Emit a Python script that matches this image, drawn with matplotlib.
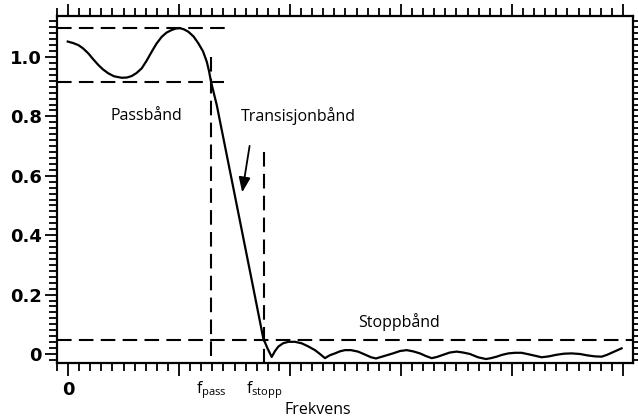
import matplotlib
matplotlib.use("Agg")
import matplotlib.pyplot as plt
from matplotlib.ticker import MultipleLocator

# amplitude response (frequency in tick units, 0..5)
freq = [-0.003, 0.045, 0.093, 0.135, 0.183, 0.225, 0.273, 0.315, 0.363, 0.414,
        0.484, 0.532, 0.574, 0.617, 0.664, 0.707, 0.754, 0.797, 0.844, 0.887,
        0.934, 0.973, 1.009, 1.045, 1.084, 1.131, 1.174, 1.216, 1.250, 1.270,
        1.288, 1.340, 1.475, 1.655, 1.759, 1.797, 1.835, 1.865, 1.895, 1.937,
        1.985, 2.045, 2.105, 2.162, 2.225, 2.270, 2.315, 2.360, 2.405, 2.450,
        2.495, 2.550, 2.613, 2.676, 2.730, 2.775, 2.838, 2.928, 2.991, 3.051,
        3.108, 3.171, 3.225, 3.277, 3.324, 3.378, 3.441, 3.502, 3.559, 3.622,
        3.694, 3.766, 3.811, 3.862, 3.910, 3.967, 4.027, 4.087, 4.162, 4.268,
        4.333, 4.396, 4.468, 4.538, 4.613, 4.685, 4.748, 4.808, 4.856, 4.898,
        4.946, 4.988]
gain = [1.052, 1.047, 1.040, 1.029, 1.012, 0.993, 0.973, 0.958, 0.945, 0.935,
        0.930, 0.931, 0.936, 0.946, 0.962, 0.987, 1.018, 1.045, 1.068, 1.082,
        1.091, 1.096, 1.097, 1.093, 1.085, 1.069, 1.046, 1.019, 0.984, 0.953,
        0.917, 0.838, 0.586, 0.249, 0.053, 0.019, -0.010, 0.010, 0.025, 0.036,
        0.041, 0.041, 0.036, 0.026, 0.013, 0.000, -0.014, -0.004, 0.002, 0.009,
        0.013, 0.013, 0.008, -0.002, -0.011, -0.015, -0.008, 0.002, 0.010, 0.013,
        0.009, 0.002, -0.007, -0.014, -0.010, -0.003, 0.005, 0.008, 0.005, 0.000,
        -0.011, -0.017, -0.014, -0.009, -0.003, 0.002, 0.004, 0.004, -0.002, -0.011,
        -0.008, -0.003, 0.001, 0.002, 0.000, -0.005, -0.008, -0.009, -0.003, 0.004,
        0.012, 0.019]

f_pass = 1.288
f_stopp = 1.766
pass_hi = 1.098
pass_lo = 0.916
stop_lvl = 0.048

yticks = [0, 0.2, 0.4, 0.6, 0.8, 1.0]
ylabels = ["0", "0.2", "0.4", "0.6", "0.8", "1.0"]

fig = plt.figure(figsize=(6.38, 4.18), dpi=100)
ax = fig.add_axes([0.0893, 0.1316, 0.9027, 0.8301])

dash = (0, (7, 3.5))
ax.plot([-0.1, 1.43], [pass_hi, pass_hi], color="black", lw=1.5, ls=dash)
ax.plot([-0.1, 1.405], [pass_lo, pass_lo], color="black", lw=1.5, ls=dash)
ax.plot([f_pass, f_pass], [1.0, -0.04], color="black", lw=1.5, ls=dash)
ax.plot([f_stopp, f_stopp], [0.68, -0.04], color="black", lw=1.5, ls=dash)
ax.plot([-0.1, 5.1], [stop_lvl, stop_lvl], color="black", lw=1.5, ls=dash)

ax.plot(freq, gain, color="black", lw=1.6, solid_joinstyle="round")

ax.annotate("", xy=(1.565, 0.535), xytext=(1.64, 0.71),
            arrowprops=dict(arrowstyle="-|>,head_length=0.9,head_width=0.35",
                            color="black", lw=1.3))

txt = dict(family="Open Sans", color="black")
ax.text(0.705, 0.80, "Passbånd", fontsize=11.5, ha="center", va="center", **txt)
ax.text(1.56, 0.80, "Transisjonbånd", fontsize=11.5, ha="left", va="center", **txt)
ax.text(2.61, 0.108, "Stoppbånd", fontsize=11.5, ha="left", va="center", **txt)

ax.set_xlim(-0.1, 5.09)
ax.set_ylim(-0.0303, 1.138)

ax.set_xticks([0, 1, 2, 3, 4, 5])
ax.set_xticklabels([])
ax.xaxis.set_minor_locator(MultipleLocator(0.1))
ax.set_yticks(yticks)
ax.set_yticklabels(ylabels, family="DejaVu Sans", fontweight="bold", fontsize=13)
ax.yaxis.set_minor_locator(MultipleLocator(0.02))

ax.tick_params(which="both", direction="out", top=True, right=True, width=1.3)
ax.tick_params(which="major", length=9, pad=2)
ax.tick_params(which="minor", length=6)
for s in ax.spines.values():
    s.set_linewidth(1.6)

# x labels drawn under the axis
tr = ax.get_xaxis_transform()
ax.text(0, -0.078, "0", transform=tr, ha="center", va="center",
        family="DejaVu Sans", fontweight="bold", fontsize=13)
ax.text(f_pass, -0.045, "f$_{\\mathregular{pass}}$", transform=tr, ha="center", va="top",
        fontsize=11.5, **txt)
ax.text(f_stopp, -0.045, "f$_{\\mathregular{stopp}}$", transform=tr, ha="center", va="top",
        fontsize=11.5, **txt)
ax.text(2.25, -0.135, "Frekvens", transform=tr, ha="center", va="center",
        fontsize=11.5, **txt)

fig.savefig("out.png", dpi=100)
